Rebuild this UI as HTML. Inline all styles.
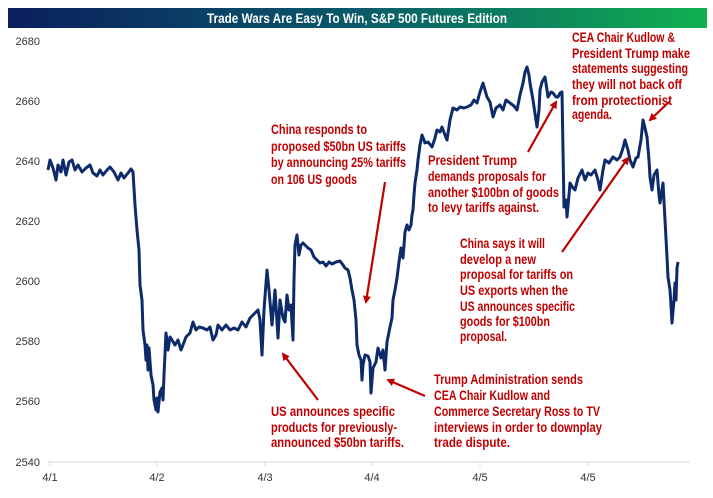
<!DOCTYPE html>
<html><head><meta charset="utf-8"><style>
html,body{margin:0;padding:0;background:#fff;width:713px;height:498px;overflow:hidden}
svg{display:block}
.a{font-family:"Liberation Sans",sans-serif;font-weight:bold;font-size:13.5px;fill:#c00000}
.t{font-family:"Liberation Sans",sans-serif;font-size:11px;fill:#333}
</style></head><body>
<svg width="713" height="498" viewBox="0 0 713 498" xmlns="http://www.w3.org/2000/svg">
<defs>
<linearGradient id="g" x1="0" x2="1" y1="0" y2="0">
<stop offset="0" stop-color="#0b1f5e"/><stop offset="0.5" stop-color="#0a5a6a"/><stop offset="1" stop-color="#10b050"/>
</linearGradient>
<marker id="m" markerWidth="8" markerHeight="8" refX="6" refY="4" orient="auto" markerUnits="userSpaceOnUse">
<path d="M0,0 L8,4 L0,8 z" fill="#c00000"/></marker>
</defs>
<rect x="8" y="8" width="699" height="20" fill="url(#g)"/>
<text x="357" y="23" text-anchor="middle" font-family="Liberation Sans,sans-serif" font-weight="bold" font-size="14" fill="#fff" textLength="300" lengthAdjust="spacingAndGlyphs">Trade Wars Are Easy To Win, S&amp;P 500 Futures Edition</text>

<g class="t" text-anchor="end">
<text x="40" y="45">2680</text><text x="40" y="105">2660</text><text x="40" y="165">2640</text>
<text x="40" y="225">2620</text><text x="40" y="285">2600</text><text x="40" y="345">2580</text>
<text x="40" y="405">2560</text><text x="40" y="466">2540</text>
</g>
<line x1="48" y1="462" x2="690" y2="462" stroke="#d8d8d8" stroke-width="1"/>
<g stroke="#d8d8d8"><line x1="50" y1="462" x2="50" y2="466"/><line x1="157" y1="462" x2="157" y2="466"/><line x1="265" y1="462" x2="265" y2="466"/><line x1="372" y1="462" x2="372" y2="466"/><line x1="480" y1="462" x2="480" y2="466"/><line x1="588" y1="462" x2="588" y2="466"/></g>
<g class="t" text-anchor="middle">
<text x="50" y="481">4/1</text><text x="157" y="481">4/2</text><text x="265" y="481">4/3</text>
<text x="372" y="481">4/4</text><text x="480" y="481">4/5</text><text x="588" y="481">4/5</text>
</g>

<polyline fill="none" stroke="#0d2a6b" stroke-width="3" stroke-linejoin="round" points="
48,170 50,160 53,168 56,180 58,165 61,172 63,160 66,175 69,162 72,160 75,170 78,165 82,172 86,168 90,165 93,173 97,176 100,170 103,175 107,170 110,167 114,172 118,180 121,173 124,178 128,173 131,169 133,172 135,205 137,230 139,250 140,285 142,300 143,330 145,345 146,360 147,345 148,370 149,348 151,375 153,385 154,400 156,410 157,398 158,412 160,392 162,388 163,400 164,375 166,333 168,350 170,337 172,340 175,345 178,340 181,350 183,345 186,337 190,333 193,322 196,330 199,327 203,328 207,330 210,327 213,340 216,335 218,325 222,330 226,325 230,330 234,328 238,330 242,322 246,327 250,318 253,315 256,312 258,310 260,320 262,355 264,310 267,270 269,290 272,325 275,290 278,338 280,300 283,318 285,322 287,295 289,310 291,305 293,340 294,280 295,245 297,235 299,255 301,245 303,243 305,245 308,248 311,250 314,257 317,260 320,263 323,262 326,266 329,262 332,264 336,262 340,261 343,265 345,268 348,270 350,278 352,290 354,300 356,320 357,345 359,355 361,360 362,380 363,365 365,355 368,356 370,362 371,393 373,368 376,362 378,348 381,358 383,350 385,370 387,342 390,327 392,318 393,300 395,290 397,278 399,262 401,248 403,258 405,232 407,225 409,230 411,225 412,215 413,210 414,195 415,183 417,170 418,160 420,145 422,135 424,140 425,143 428,142 432,147 435,138 437,130 440,132 442,127 445,135 447,140 450,120 453,108 457,110 460,107 464,108 467,107 471,105 474,100 477,103 480,92 483,83 485,90 487,97 490,102 493,117 496,108 500,105 503,110 506,100 510,103 514,106 517,110 520,95 523,83 525,72 527,67 529,75 530,83 533,100 537,127 539,110 540,90 542,82 545,77 547,90 548,97 551,92 553,93 556,97 558,97 560,93 562,92 563,150 564,207 566,200 567,217 569,195 570,183 573,188 575,190 578,178 582,170 585,180 588,173 591,175 595,170 598,180 600,190 603,170 605,160 609,163 613,157 617,160 620,157 623,148 625,140 628,150 630,160 633,167 636,158 638,157 641,140 643,120 645,128 647,137 649,160 650,177 652,190 654,175 657,170 659,195 660,203 662,190 663,183 665,220 667,257 668,277 670,290 671,305 672,323 674,300 675,283 676,300 677,268 678,262"/>

<g stroke="#c00000" stroke-width="2.2" fill="none">
<line x1="385" y1="182" x2="366" y2="302" marker-end="url(#m)"/>
<line x1="318" y1="400" x2="283" y2="354" marker-end="url(#m)"/>
<line x1="425" y1="396" x2="388" y2="380" marker-end="url(#m)"/>
<line x1="528" y1="152" x2="556" y2="102" marker-end="url(#m)"/>
<line x1="562" y1="252" x2="628" y2="158" marker-end="url(#m)"/>
<line x1="669" y1="102" x2="650" y2="120" marker-end="url(#m)"/>
</g>

<g class="a">
<text x="572" y="42" textLength="103" lengthAdjust="spacingAndGlyphs">CEA Chair Kudlow &amp;</text>
<text x="572" y="58" textLength="118" lengthAdjust="spacingAndGlyphs">President Trump make</text>
<text x="572" y="73" textLength="116" lengthAdjust="spacingAndGlyphs">statements suggesting</text>
<text x="572" y="89" textLength="110" lengthAdjust="spacingAndGlyphs">they will not back off</text>
<text x="572" y="105" textLength="100" lengthAdjust="spacingAndGlyphs">from protectionist</text>
<text x="572" y="119" textLength="40" lengthAdjust="spacingAndGlyphs">agenda.</text>

<text x="271" y="134" textLength="96" lengthAdjust="spacingAndGlyphs">China responds to</text>
<text x="271" y="151" textLength="135" lengthAdjust="spacingAndGlyphs">proposed $50bn US tariffs</text>
<text x="271" y="167" textLength="135" lengthAdjust="spacingAndGlyphs">by announcing 25% tariffs</text>
<text x="271" y="184" textLength="86" lengthAdjust="spacingAndGlyphs">on 106 US goods</text>

<text x="428" y="165" textLength="89" lengthAdjust="spacingAndGlyphs">President Trump</text>
<text x="428" y="181" textLength="118" lengthAdjust="spacingAndGlyphs">demands proposals for</text>
<text x="428" y="197" textLength="131" lengthAdjust="spacingAndGlyphs">another $100bn of goods</text>
<text x="428" y="212" textLength="111" lengthAdjust="spacingAndGlyphs">to levy tariffs against.</text>

<text x="460" y="248" textLength="85" lengthAdjust="spacingAndGlyphs">China says it will</text>
<text x="460" y="264" textLength="76" lengthAdjust="spacingAndGlyphs">develop a new</text>
<text x="460" y="279" textLength="113" lengthAdjust="spacingAndGlyphs">proposal for tariffs on</text>
<text x="460" y="295" textLength="108" lengthAdjust="spacingAndGlyphs">US exports when the</text>
<text x="460" y="311" textLength="115" lengthAdjust="spacingAndGlyphs">US announces specific</text>
<text x="460" y="326" textLength="90" lengthAdjust="spacingAndGlyphs">goods for $100bn</text>
<text x="460" y="341" textLength="47" lengthAdjust="spacingAndGlyphs">proposal.</text>

<text x="434" y="384" textLength="149" lengthAdjust="spacingAndGlyphs">Trump Administration sends</text>
<text x="434" y="400" textLength="116" lengthAdjust="spacingAndGlyphs">CEA Chair Kudlow and</text>
<text x="434" y="416" textLength="166" lengthAdjust="spacingAndGlyphs">Commerce Secretary Ross to TV</text>
<text x="434" y="432" textLength="168" lengthAdjust="spacingAndGlyphs">interviews in order to downplay</text>
<text x="434" y="447" textLength="76" lengthAdjust="spacingAndGlyphs">trade dispute.</text>

<text x="271" y="416" textLength="124" lengthAdjust="spacingAndGlyphs">US announces specific</text>
<text x="271" y="432" textLength="126" lengthAdjust="spacingAndGlyphs">products for previously-</text>
<text x="271" y="447" textLength="133" lengthAdjust="spacingAndGlyphs">announced $50bn tariffs.</text>
</g>
</svg>
</body></html>
